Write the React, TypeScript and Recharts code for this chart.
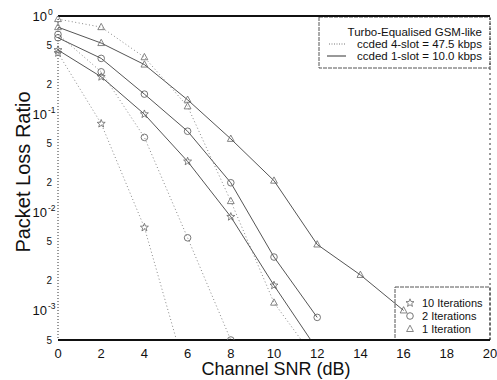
import React from 'react';
import { LineChart, Line, XAxis, YAxis, ReferenceLine, Customized } from 'recharts';

// Channel SNR (dB) sample points
const snr = [0, 2, 4, 6, 8, 10, 12, 14, 16];

// 1-slot (10.0 kbps), solid lines
const slot1Iter1 = [0.77, 0.53, 0.32, 0.14, 0.056, 0.021, 0.0047, 0.0023, 0.001];
const slot1Iter2 = [0.6, 0.37, 0.16, 0.067, 0.02, 0.0035, 0.00085];
const slot1Iter10 = [0.45, 0.24, 0.1, 0.033, 0.009, 0.0018, 0.0004];

// 4-slot (47.5 kbps), dotted lines
const slot4Iter1 = [0.93, 0.77, 0.38, 0.12, 0.013, 0.0012, 0.0003];
const slot4Iter2 = [0.65, 0.27, 0.058, 0.0055, 0.0005];
const slot4Iter10 = [0.42, 0.08, 0.007, 0.0002];

const xTicks = [0, 2, 4, 6, 8, 10, 12, 14, 16, 18, 20];
const yTicks = [1, 0.5, 0.2, 0.1, 0.05, 0.02, 0.01, 0.005, 0.002, 0.001, 0.0005];

const legendTitle = 'Turbo-Equalised GSM-like';
const legend4Slot = 'ccded 4-slot = 47.5 kbps';
const legend1Slot = 'ccded 1-slot = 10.0 kbps';
const iterLabels = ['10 Iterations', '2 Iterations', '1 Iteration'];

const data = snr.map((x, i) => ({
  x,
  s1i1: slot1Iter1[i],
  s1i2: slot1Iter2[i],
  s1i10: slot1Iter10[i],
  s4i1: slot4Iter1[i],
  s4i2: slot4Iter2[i],
  s4i10: slot4Iter10[i],
}));

const FONT = 'Arial, "Liberation Sans", Helvetica, sans-serif';
const MARK = '#666';

const starPoints = (cx: number, cy: number, R = 4.2, r = 1.8) => {
  const pts: string[] = [];
  for (let k = 0; k < 10; k++) {
    const rad = k % 2 === 0 ? R : r;
    const a = -Math.PI / 2 + (k * Math.PI) / 5;
    pts.push(`${(cx + rad * Math.cos(a)).toFixed(2)},${(cy + rad * Math.sin(a)).toFixed(2)}`);
  }
  return pts.join(' ');
};

const StarShape = ({ cx, cy }: { cx: number; cy: number }) => (
  <polygon points={starPoints(cx, cy)} fill="none" stroke={MARK} strokeWidth={0.8} />
);
const CircleShape = ({ cx, cy }: { cx: number; cy: number }) => (
  <circle cx={cx} cy={cy} r={3.3} fill="none" stroke={MARK} strokeWidth={0.9} />
);
const TriShape = ({ cx, cy }: { cx: number; cy: number }) => (
  <polygon
    points={`${cx},${cy - 3.8} ${cx - 3.4},${cy + 2.5} ${cx + 3.4},${cy + 2.5}`}
    fill="none"
    stroke={MARK}
    strokeWidth={0.8}
  />
);

const makeDot = (Shape: any) => (p: any) => {
  if (p.cx == null || p.cy == null || p.value == null) return <g key={`e${p.index}`} />;
  return (
    <g key={`d${p.index}`}>
      <Shape cx={p.cx} cy={p.cy} />
    </g>
  );
};

const YTick = (props: any) => {
  const { y, payload } = props;
  const v = payload.value as number;
  const lg = Math.log10(v);
  const e = Math.round(lg);
  if (Math.abs(lg - e) < 1e-6) {
    return (
      <g>
        <text x={47} y={y + 4.5} textAnchor="end" fontSize={13} fontFamily={FONT} fill="#111">
          10
        </text>
        <text x={48} y={y - 1} textAnchor="start" fontSize={8.5} fontFamily={FONT} fill="#111">
          {String(e)}
        </text>
      </g>
    );
  }
  const m = Math.round(v / Math.pow(10, Math.floor(lg)));
  return (
    <text x={52} y={y + 3.5} textAnchor="end" fontSize={10} fontFamily={FONT} fill="#111">
      {String(m)}
    </text>
  );
};

const XTick = (props: any) => {
  const { x, payload } = props;
  return (
    <text x={x} y={357.5} textAnchor="middle" fontSize={13} fontFamily={FONT} fill="#111">
      {String(payload.value)}
    </text>
  );
};

const Decorations = () => (
  <g>
    {/* axis titles */}
    <text x={276} y={375} textAnchor="middle" fontSize={18} fontFamily={FONT} fill="#111">
      Channel SNR (dB)
    </text>
    <text
      x={30}
      y={172}
      textAnchor="middle"
      fontSize={20}
      fontFamily={FONT}
      fill="#111"
      transform="rotate(-90 30 172)"
    >
      Packet Loss Ratio
    </text>

    {/* top-right legend */}
    <rect x={319} y={17} width={171} height={51} fill="#fff" stroke="#555" strokeWidth={1} strokeDasharray="4 1" />
    <text x={482} y={36} textAnchor="end" fontSize={11.5} fontFamily={FONT} fill="#111">
      {legendTitle}
    </text>
    <line x1={329} y1={44} x2={346} y2={44} stroke="#777" strokeWidth={1} strokeDasharray="1 1.5" />
    <text x={482} y={48} textAnchor="end" fontSize={11.5} fontFamily={FONT} fill="#111">
      {legend4Slot}
    </text>
    <line x1={327} y1={56} x2={346} y2={56} stroke="#333" strokeWidth={1} />
    <text x={482} y={60} textAnchor="end" fontSize={11.5} fontFamily={FONT} fill="#111">
      {legend1Slot}
    </text>

    {/* bottom-right legend */}
    <rect x={395} y={287} width={95} height={53} fill="#fff" stroke="#555" strokeWidth={1} strokeDasharray="4 1" />
    <StarShape cx={410} cy={303} />
    <text x={422} y={307} fontSize={11} fontFamily={FONT} fill="#111">
      {iterLabels[0]}
    </text>
    <CircleShape cx={410} cy={316} />
    <text x={422} y={320} fontSize={11} fontFamily={FONT} fill="#111">
      {iterLabels[1]}
    </text>
    <TriShape cx={410} cy={329} />
    <text x={422} y={333} fontSize={11} fontFamily={FONT} fill="#111">
      {iterLabels[2]}
    </text>
  </g>
);

export default function App() {
  return (
    <div style={{ position: 'absolute', left: 0, top: 0, background: '#fff' }}>
      <LineChart
        width={497}
        height={380}
        data={data}
        margin={{ top: 16, right: 7, bottom: 0, left: 0 }}
      >
        <XAxis
          dataKey="x"
          type="number"
          domain={[0, 20]}
          ticks={xTicks}
          tick={<XTick />}
          tickLine={false}
          axisLine={{ stroke: '#111', strokeWidth: 2 }}
          height={40}
          interval={0}
        />
        <YAxis
          type="number"
          scale="log"
          domain={[0.0005, 1]}
          ticks={yTicks}
          allowDataOverflow
          tick={<YTick />}
          tickLine={false}
          axisLine={{ stroke: '#333', strokeWidth: 1, strokeDasharray: '1 2' }}
          width={58}
          interval={0}
        />
        <ReferenceLine y={1} stroke="#111" strokeWidth={2} />
        <ReferenceLine x={20} stroke="#333" strokeWidth={1} strokeDasharray="2 3" />

        <Line dataKey="s4i1" stroke="#888" strokeWidth={1} strokeDasharray="1 2.5" dot={makeDot(TriShape)} isAnimationActive={false} />
        <Line dataKey="s4i2" stroke="#888" strokeWidth={1} strokeDasharray="1 2.5" dot={makeDot(CircleShape)} isAnimationActive={false} />
        <Line dataKey="s4i10" stroke="#888" strokeWidth={1} strokeDasharray="1 2.5" dot={makeDot(StarShape)} isAnimationActive={false} />
        <Line dataKey="s1i1" stroke="#555" strokeWidth={1} dot={makeDot(TriShape)} isAnimationActive={false} />
        <Line dataKey="s1i2" stroke="#555" strokeWidth={1} dot={makeDot(CircleShape)} isAnimationActive={false} />
        <Line dataKey="s1i10" stroke="#555" strokeWidth={1} dot={makeDot(StarShape)} isAnimationActive={false} />

        <Customized component={Decorations} />
      </LineChart>
    </div>
  );
}
